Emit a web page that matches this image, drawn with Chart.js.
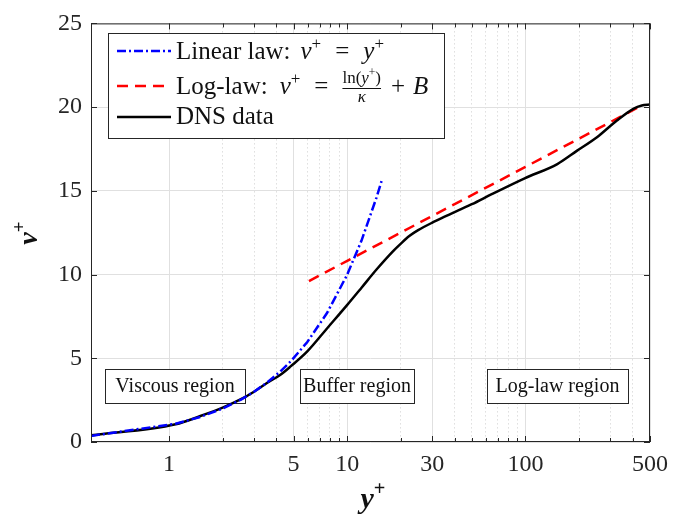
<!DOCTYPE html>
<html>
<head>
<meta charset="utf-8">
<script src="https://cdn.jsdelivr.net/npm/chart.js@4.4.1/dist/chart.umd.min.js"></script>
<style>
  html, body { margin: 0; padding: 0; background: #fff; }
</style>
</head>
<body>
<canvas id="profile" width="676" height="521"></canvas>
<script>
// Mean velocity profile in wall units
const dnsYPlus = [0.365, 1.09, 1.5, 2.0, 2.55, 3.0, 3.58, 4.2, 4.83, 5.97, 7.7, 9.95, 12.0, 14.6, 18.1, 20, 22.3, 25, 30, 36, 42.3, 50, 64.7, 99, 151, 195, 252, 326, 403, 450, 500];
const dnsVPlus = [0.4, 1.06, 1.55, 2.05, 2.57, 3.0, 3.55, 4.0, 4.53, 5.41, 6.78, 8.16, 9.2, 10.3, 11.4, 11.85, 12.3, 12.65, 13.1, 13.5, 13.85, 14.2, 14.8, 15.75, 16.6, 17.4, 18.2, 19.2, 19.9, 20.1, 20.15];

const linYPlus = [0.365, 1.09, 1.5, 2.0, 2.55, 3.0, 3.58, 4.2, 4.83, 5.97, 7.7, 9.95, 12.0, 14.6, 15.6];
const linVPlus = [0.365, 1.09, 1.5, 2.0, 2.55, 3.0, 3.58, 4.2, 4.83, 5.97, 7.7, 9.95, 12.0, 14.6, 15.6];

const logYPlus = [6.1, 10, 30, 100, 300, 450];
const logVPlus = [9.61, 10.82, 13.50, 16.43, 19.11, 20.1];

const xTickValues = [1, 5, 10, 30, 100, 500];
const xMinorValues = [2, 3, 4, 6, 7, 8, 9, 20, 40, 50, 60, 70, 80, 90, 200, 300, 400];
const regionLabels = ['Viscous region', 'Buffer region', 'Log-law region'];

const SERIF = '"Liberation Serif", "Times New Roman", serif';
const AXIS_COLOR = '#262626';

// annotation boxes along the bottom: [left, top, width, height]
const regionBoxes = [[105, 369, 140, 34], [300, 369, 114, 34], [487, 369, 141, 34]];

function toPoints(xs, ys) {
    return xs.map((x, i) => ({ x: x, y: ys[i] }));
}

function isMajorX(v) {
    return xTickValues.includes(v);
}

function runFont(r, size, weight) {
    const s = r.sup ? size * 0.68 : size;
    return (r.italic ? 'italic ' : '') + (weight || '') + ' ' + s + 'px ' + SERIF;
}

// writes pieces of text one after another; italic and superscript pieces for the math,
// gap = extra room before a piece (math spacing is wider than plain text)
function drawRuns(ctx, runs, x, y, size, weight) {
    runs.forEach(r => {
        x += r.gap || 0;
        ctx.font = runFont(r, size, weight);
        ctx.fillText(r.t, x, r.sup ? y - size * 0.42 : y);
        x += ctx.measureText(r.t).width;
    });
    return x;
}

function runsWidth(ctx, runs, size, weight) {
    let w = 0;
    runs.forEach(r => {
        ctx.font = runFont(r, size, weight);
        w += (r.gap || 0) + ctx.measureText(r.t).width;
    });
    return w;
}

function strokeSample(ctx, x1, x2, y, color, dash) {
    ctx.save();
    ctx.strokeStyle = color;
    ctx.lineWidth = 2.5;
    ctx.setLineDash(dash);
    ctx.beginPath();
    ctx.moveTo(x1, y);
    ctx.lineTo(x2, y);
    ctx.stroke();
    ctx.restore();
}

const regionPlugin = {
    id: 'regions',
    beforeDatasetsDraw(chart) {
        const ctx = chart.ctx;
        ctx.save();
        regionBoxes.forEach((b, i) => {
            ctx.fillStyle = '#fff';
            ctx.fillRect(b[0], b[1], b[2], b[3]);
            ctx.strokeStyle = AXIS_COLOR;
            ctx.lineWidth = 1;
            ctx.strokeRect(b[0] + 0.5, b[1] + 0.5, b[2], b[3]);
            ctx.fillStyle = '#111';
            ctx.font = '20px ' + SERIF;
            ctx.textAlign = 'center';
            ctx.textBaseline = 'middle';
            ctx.fillText(regionLabels[i], b[0] + b[2] / 2, b[1] + b[3] / 2 + 1);
        });
        ctx.restore();
    }
};

const framePlugin = {
    id: 'frame',
    afterDraw(chart) {
        const ctx = chart.ctx;
        const area = chart.chartArea;
        const xs = chart.scales.x;
        const ys = chart.scales.y;
        ctx.save();

        // box round the axes and inward tick marks
        ctx.strokeStyle = AXIS_COLOR;
        ctx.lineWidth = 1;
        ctx.strokeRect(area.left + 0.5, area.top + 0.5, area.right - area.left - 1, area.bottom - area.top - 1);
        ctx.beginPath();
        xs.ticks.forEach(t => {
            const px = Math.round(xs.getPixelForValue(t.value)) + 0.5;
            const len = isMajorX(t.value) ? 6 : 4;
            ctx.moveTo(px, area.bottom);
            ctx.lineTo(px, area.bottom - len);
            ctx.moveTo(px, area.top);
            ctx.lineTo(px, area.top + len);
        });
        ys.ticks.forEach(t => {
            const py = Math.round(ys.getPixelForValue(t.value)) + 0.5;
            ctx.moveTo(area.left, py);
            ctx.lineTo(area.left + 6, py);
            ctx.moveTo(area.right, py);
            ctx.lineTo(area.right - 6, py);
        });
        ctx.stroke();

        // axis titles
        ctx.fillStyle = '#111';
        ctx.textBaseline = 'alphabetic';
        ctx.textAlign = 'left';
        const xTitle = [{ t: 'y', italic: true }, { t: '+', sup: true }];
        const xw = runsWidth(ctx, xTitle, 30, 'bold');
        drawRuns(ctx, xTitle, 373 - xw / 2, 508, 30, 'bold');

        const yTitle = [{ t: 'v', italic: true }, { t: '+', sup: true }];
        ctx.save();
        ctx.translate(37, 233);
        ctx.rotate(-Math.PI / 2);
        const yw = runsWidth(ctx, yTitle, 28, 'bold');
        drawRuns(ctx, yTitle, -yw / 2, 0, 28, 'bold');
        ctx.restore();

        // legend
        const lx = 108, ly = 33, lw = 336, lh = 105;
        ctx.fillStyle = '#fff';
        ctx.fillRect(lx, ly, lw, lh);
        ctx.strokeStyle = AXIS_COLOR;
        ctx.strokeRect(lx + 0.5, ly + 0.5, lw, lh);

        const ds = chart.data.datasets;
        strokeSample(ctx, 117, 171, 51, ds[0].borderColor, ds[0].borderDash);
        strokeSample(ctx, 117, 171, 86, ds[2].borderColor, ds[2].borderDash);
        strokeSample(ctx, 117, 171, 117, ds[1].borderColor, []);

        ctx.fillStyle = '#111';
        const fs = 25;
        drawRuns(ctx, [
            { t: 'Linear law:' }, { t: 'v', italic: true, gap: 10 }, { t: '+', sup: true },
            { t: '=', gap: 14 }, { t: 'y', italic: true, gap: 14 }, { t: '+', sup: true }
        ], 176, 59, fs);

        let x = drawRuns(ctx, [
            { t: 'Log-law:' }, { t: 'v', italic: true, gap: 12 }, { t: '+', sup: true }, { t: '=', gap: 14 }
        ], 176, 94, fs);
        x += 14;
        const num = [{ t: 'ln(' }, { t: 'y', italic: true }, { t: '+', sup: true }, { t: ')' }];
        const nw = runsWidth(ctx, num, 17);
        drawRuns(ctx, num, x, 83, 17);
        ctx.fillRect(x, 88, nw, 1);
        ctx.font = 'italic 17px ' + SERIF;
        const kw = ctx.measureText('\u03ba').width;
        ctx.fillText('\u03ba', x + (nw - kw) / 2, 102);
        x += nw;
        drawRuns(ctx, [{ t: '+', gap: 10 }, { t: 'B', italic: true, gap: 8 }], x, 94, fs);

        drawRuns(ctx, [{ t: 'DNS data' }], 176, 124, fs);

        ctx.restore();
    }
};

const chart = new Chart(document.getElementById('profile'), {
    type: 'scatter',
    data: {
        datasets: [{
            label: 'Linear law',
            data: toPoints(linYPlus, linVPlus),
            borderColor: '#0000ff',
            borderWidth: 2.5,
            borderDash: [9, 3, 2, 3],
            showLine: true,
            pointRadius: 0
        }, {
            label: 'DNS data',
            data: toPoints(dnsYPlus, dnsVPlus),
            borderColor: '#000000',
            borderWidth: 2.5,
            showLine: true,
            cubicInterpolationMode: 'monotone',
            pointRadius: 0
        }, {
            label: 'Log-law',
            data: toPoints(logYPlus, logVPlus),
            borderColor: '#ff0000',
            borderWidth: 2.5,
            borderDash: [11, 7],
            showLine: true,
            pointRadius: 0
        }]
    },
    options: {
        responsive: false,
        animation: false,
        layout: { padding: { top: 17, right: 19, left: 0, bottom: 0 } },
        plugins: {
            legend: { display: false },
            tooltip: { enabled: false }
        },
        scales: {
            x: {
                type: 'logarithmic',
                min: 0.365,
                max: 500,
                afterBuildTicks: scale => {
                    scale.ticks = xTickValues.concat(xMinorValues)
                        .sort((a, b) => a - b)
                        .map(v => ({ value: v }));
                },
                afterFit: scale => { scale.height = 79; },
                grid: {
                    drawTicks: false,
                    color: ctx => (ctx.tick && !isMajorX(ctx.tick.value)) ? '#cdcdcd' : '#e0e0e0',
                    lineWidth: 1
                },
                border: {
                    display: false,
                    dash: ctx => (ctx.tick && !isMajorX(ctx.tick.value)) ? [1, 3] : []
                },
                ticks: {
                    autoSkip: false,
                    maxRotation: 0,
                    padding: 8,
                    color: AXIS_COLOR,
                    font: { family: SERIF, size: 24 },
                    callback: value => isMajorX(value) ? String(value) : ''
                }
            },
            y: {
                min: 0,
                max: 25,
                afterFit: scale => { scale.width = 91; },
                grid: { drawTicks: false, color: '#e0e0e0', lineWidth: 1 },
                border: { display: false },
                ticks: {
                    stepSize: 5,
                    padding: 9,
                    color: AXIS_COLOR,
                    font: { family: SERIF, size: 24 }
                }
            }
        }
    },
    plugins: [regionPlugin, framePlugin]
});
</script>
</body>
</html>
